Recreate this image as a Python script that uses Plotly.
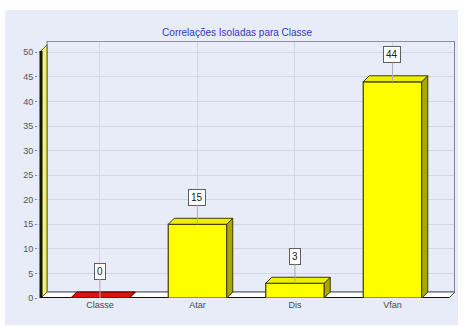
import plotly.graph_objects as go

# Chart data
categories = ["Classe", "Atar", "Dis", "Vfan"]
values = [0, 15, 3, 44]
face_colors = ["#d00000", "#ffff00", "#ffff00", "#ffff00"]
top_colors = ["#e01010", "#eeee00", "#eeee00", "#eeee00"]
side_colors = ["#8a0000", "#a8a800", "#a8a800", "#a8a800"]
edge_colors = ["#500000", "#3c3c00", "#3c3c00", "#3c3c00"]
y_ticks = list(range(0, 55, 5))
title_text = "Correlações Isoladas para Classe"

# Figure geometry
W, H = 465, 327
ML, MR, MT, MB = 38, 10, 41, 29
PW, PH = W - ML - MR, H - MT - MB
X0 = -0.605 - 3 / 97.5
X_RANGE = [X0, X0 + PW / 97.5]
Y_RANGE = [0, 52.3]
BAR_W = 0.6
DEPTH = 6  # pixel depth of the pseudo-3D extrusion

ppx = PW / (X_RANGE[1] - X_RANGE[0])
ppy = PH / (Y_RANGE[1] - Y_RANGE[0])
dx, dy = DEPTH / ppx, DEPTH / ppy
wall_x = X_RANGE[0] + 3 / ppx  # front edge of the left wall


def px_to_paper(X, Y):
    return (X - ML) / PW, (H - MB - Y) / PH


def poly(pts):
    return "M " + " L ".join(f"{x},{y}" for x, y in pts) + " Z"


xs = list(range(len(categories)))
fig = go.Figure()

fig.add_trace(go.Bar(
    x=xs, y=values, width=BAR_W,
    marker=dict(color=face_colors, line=dict(color=edge_colors, width=1.2)),
    hoverinfo="skip",
))

shapes = []

# lavender card behind the whole chart
cx0, cy0 = px_to_paper(5, 10)
cx1, cy1 = px_to_paper(458, 325)
shapes.append(dict(type="rect", xref="paper", yref="paper", x0=cx0, y0=cy1, x1=cx1, y1=cy0,
                   fillcolor="#e8ebf8", line=dict(width=0), layer="below"))

# back wall frame
shapes.append(dict(type="rect", xref="x", yref="y", x0=wall_x + dx, y0=dy,
                   x1=X_RANGE[1] - 0.004, y1=Y_RANGE[1] - 0.05,
                   fillcolor="rgba(0,0,0,0)", line=dict(color="#76767e", width=1), layer="between"))

# floor
fx_end = X_RANGE[1] - dx
shapes.append(dict(type="path", xref="x", yref="y",
                   path=poly([(wall_x, 0), (wall_x + dx, dy), (X_RANGE[1], dy), (fx_end, 0)]),
                   fillcolor="#ffffff", line=dict(color="#55555c", width=1), layer="between"))
shapes.append(dict(type="line", xref="x", yref="y", x0=wall_x, y0=0, x1=fx_end, y1=0,
                   line=dict(color="#111111", width=2), layer="between"))

# left wall
shapes.append(dict(type="path", xref="x", yref="y",
                   path=poly([(wall_x, 0), (wall_x + dx, dy), (wall_x + dx, 50.3 + dy), (wall_x, 50.3)]),
                   fillcolor="#f2f270", line=dict(color="#5a5a30", width=1), layer="between"))
shapes.append(dict(type="line", xref="x", yref="y", x0=wall_x, y0=0, x1=wall_x, y1=50.3,
                   line=dict(color="#111111", width=3), layer="between"))

# extruded top and side faces of each bar
hw = BAR_W / 2
for x, v, tc, sc, ec in zip(xs, values, top_colors, side_colors, edge_colors):
    shapes.append(dict(type="path", xref="x", yref="y",
                       path=poly([(x + hw, 0), (x + hw + dx, dy), (x + hw + dx, v + dy), (x + hw, v)]),
                       fillcolor=sc, line=dict(color=ec, width=1), layer="above"))
    shapes.append(dict(type="path", xref="x", yref="y",
                       path=poly([(x - hw, v), (x - hw + dx, v + dy), (x + hw + dx, v + dy), (x + hw, v)]),
                       fillcolor=tc, line=dict(color=ec, width=1), layer="above"))

annotations = []
for x, v in zip(xs, values):
    annotations.append(dict(
        x=x, y=v, xref="x", yref="y", text=str(v),
        showarrow=True, ax=0, ay=-27, arrowhead=0, arrowwidth=1, arrowcolor="#b0b0b8",
        bgcolor="#ffffff", bordercolor="#5e5e5e", borderwidth=1, borderpad=2,
        font=dict(family="Liberation Sans, Arial", size=10, color="#222222"),
    ))

fig.update_layout(
    width=W, height=H,
    margin=dict(l=ML, r=MR, t=MT, b=MB),
    paper_bgcolor="#ffffff",
    plot_bgcolor="#e8ebf8",
    showlegend=False,
    bargap=0.4,
    shapes=shapes,
    annotations=annotations,
    title=dict(text=title_text, x=0.51, xanchor="center", y=1 - 32 / H, yanchor="middle",
               yref="container",
               font=dict(family="Liberation Sans, Arial", size=10, color="#3535c8")),
    xaxis=dict(range=X_RANGE, tickmode="array", tickvals=xs, ticktext=categories,
               showgrid=True, gridcolor="#d2d5e3", gridwidth=1, zeroline=False,
               showline=False, ticks="", tickfont=dict(family="Liberation Sans, Arial", size=9, color="#4a4a4a"),
               fixedrange=True),
    yaxis=dict(range=Y_RANGE, tickmode="array", tickvals=y_ticks,
               showgrid=True, gridcolor="#d2d5e3", gridwidth=1, zeroline=False,
               showline=False, ticks="outside", ticklen=2, tickcolor="#888888",
               tickfont=dict(family="Liberation Sans, Arial", size=9, color="#555555"),
               fixedrange=True),
)

fig.write_html("out.html")
